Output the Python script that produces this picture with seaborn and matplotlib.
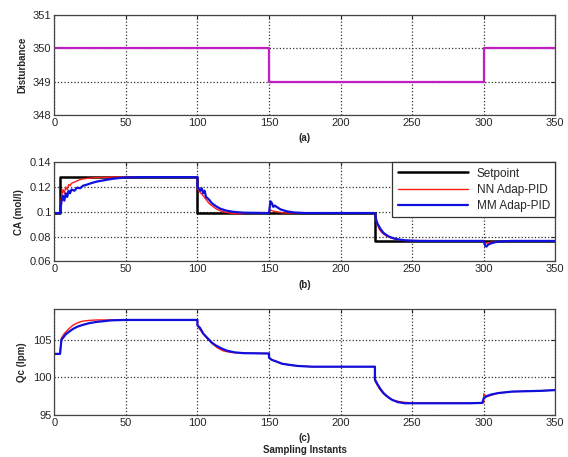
import numpy as np
import pandas as pd
import matplotlib
matplotlib.use("Agg")
import matplotlib.pyplot as plt
import seaborn as sns

# (a) disturbance
dist_x = [0, 150, 300, 350]
dist_y = [350, 349, 350, 350]

# (b) concentration CA
sp_x = [0, 4, 100, 224, 350]
sp_y = [0.099, 0.128, 0.099, 0.0765, 0.0765]

nn_ca_x = [0, 4, 5, 6, 7, 8, 9, 10, 11, 12, 14, 16, 18, 20, 23, 26, 30, 35, 40, 50, 100,
           100, 101, 102, 104, 106, 108, 110, 113, 116, 120, 125, 130, 135, 150,
           151, 153, 156, 160, 224, 225, 227, 229, 232, 235, 238, 242, 250, 258, 270,
           300, 301, 303, 306, 310, 318, 350]
nn_ca_y = [0.099, 0.099, 0.112, 0.118, 0.115, 0.120, 0.118, 0.122, 0.121, 0.123, 0.124,
           0.125, 0.126, 0.1265, 0.127, 0.1273, 0.1276, 0.1278, 0.128, 0.128, 0.128,
           0.119, 0.117, 0.1155, 0.113, 0.110, 0.107, 0.105, 0.1025, 0.1008, 0.0995,
           0.0985, 0.0985, 0.099, 0.099,
           0.1015, 0.1005, 0.100, 0.099, 0.099, 0.092, 0.086, 0.083, 0.0805, 0.079,
           0.078, 0.077, 0.0768, 0.0768, 0.0765,
           0.0765, 0.0745, 0.075, 0.0755, 0.076, 0.0765, 0.0765]

mm_ca_x = [0, 4, 5, 6, 7, 8, 9, 10, 11, 12, 14, 16, 18, 20, 23, 26, 30, 35, 40, 45, 50,
           60, 100, 100, 101, 102, 103, 104, 105, 106, 108, 110, 113, 116, 120, 125, 132,
           150, 151, 152, 153, 154, 156, 158, 162, 167, 175, 224, 225, 226, 228, 230,
           233, 236, 240, 245, 255, 300, 301, 302, 303, 305, 308, 312, 320, 350]
mm_ca_y = [0.099, 0.099, 0.108, 0.113, 0.109, 0.115, 0.112, 0.117, 0.115, 0.118, 0.117,
           0.1195, 0.119, 0.121, 0.122, 0.1232, 0.1245, 0.1255, 0.1265, 0.1272, 0.1277,
           0.128, 0.128, 0.120, 0.119, 0.117, 0.119, 0.115, 0.117, 0.112, 0.110, 0.107,
           0.1045, 0.1025, 0.101, 0.100, 0.0993,
           0.099, 0.1085, 0.107, 0.104, 0.105, 0.1035, 0.102, 0.1005, 0.0995, 0.099,
           0.099, 0.093, 0.090, 0.086, 0.083, 0.0805, 0.079, 0.0778, 0.077, 0.0765,
           0.0765, 0.0725, 0.072, 0.0735, 0.0745, 0.0755, 0.0762, 0.0765, 0.0765]

# (c) coolant flow Qc
nn_qc_x = [0, 4, 5, 7, 10, 13, 16, 20, 25, 30, 100, 100, 103, 106, 110, 114, 118, 123,
           130, 150, 150, 152, 155, 159, 164, 170, 180, 224, 224, 227, 230, 234, 238,
           243, 250, 300, 300, 302, 305, 310, 320, 340, 350]
nn_qc_y = [103.1, 103.1, 105.2, 105.8, 106.4, 106.9, 107.2, 107.45, 107.55, 107.6, 107.6,
           106.8, 106.0, 105.3, 104.5, 103.9, 103.5, 103.3, 103.2, 103.15, 102.6, 102.3,
           102.1, 101.8, 101.65, 101.5, 101.4, 101.4, 99.5, 98.5, 97.8, 97.2, 96.9,
           96.7, 96.6, 96.6, 97.8, 97.4, 97.6, 97.9, 98.1, 98.2, 98.3]

mm_qc_x = [0, 4, 5, 6, 8, 10, 13, 16, 20, 25, 30, 35, 40, 50, 100, 100, 102, 104, 107,
           110, 113, 117, 121, 126, 132, 150, 150, 152, 155, 159, 164, 170, 180, 224,
           224, 226, 228, 230, 233, 236, 240, 245, 290, 299, 300, 302, 305, 310, 320,
           340, 350]
mm_qc_y = [103.1, 103.1, 105.0, 105.2, 105.7, 106.0, 106.4, 106.7, 106.95, 107.2, 107.35,
           107.45, 107.55, 107.6, 107.6, 106.9, 106.5, 105.8, 105.2, 104.6, 104.2, 103.8,
           103.5, 103.3, 103.2, 103.15, 102.6, 102.3, 102.1, 101.8, 101.65, 101.5,
           101.4, 101.4, 99.7, 99.0, 98.4, 97.9, 97.4, 97.0, 96.7, 96.55, 96.55, 96.6,
           97.2, 97.5, 97.7, 97.9, 98.1, 98.2, 98.3]

x_ticks = [0, 50, 100, 150, 200, 250, 300, 350]

sns.set_style("white")
plt.rcParams["font.family"] = ["Liberation Sans", "DejaVu Sans"]
plt.rcParams["font.size"] = 8

fig = plt.figure(figsize=(5.68, 4.57), dpi=100)
left, width = 0.0956, 0.882
ax_a = fig.add_axes([left, 0.748, width, 0.219])
ax_b = fig.add_axes([left, 0.428, width, 0.217])
ax_c = fig.add_axes([left, 0.092, width, 0.231])


def style_axis(ax, ylim, yticks, yticklabels, ylabel, tag):
    ax.set_xlim(0, 350)
    ax.set_ylim(*ylim)
    ax.set_xticks(x_ticks)
    ax.set_yticks(yticks)
    ax.set_yticklabels(yticklabels)
    ax.grid(True, linestyle=":", color="#333333", linewidth=0.9)
    ax.tick_params(direction="in", length=3, labelsize=8, top=True, right=True,
                   pad=2)
    for s in ax.spines.values():
        s.set_color("#444444")
        s.set_linewidth(0.9)
    ax.set_xlabel(tag, fontsize=7, fontweight="bold", labelpad=4)
    ax.set_ylabel(ylabel, fontsize=7, fontweight="bold", labelpad=4)


# (a)
sns.lineplot(x=dist_x, y=dist_y, ax=ax_a, color="#c21fc2", linewidth=1.6,
             drawstyle="steps-post", estimator=None, sort=False)
style_axis(ax_a, (348, 351), [348, 349, 350, 351],
           ["348", "349", "350", "351"], "Disturbance", "(a)")

# (b)
sns.lineplot(x=sp_x, y=sp_y, ax=ax_b, color="black", linewidth=1.8,
             drawstyle="steps-post", estimator=None, sort=False, label="Setpoint")
sns.lineplot(x=nn_ca_x, y=nn_ca_y, ax=ax_b, color="#ff1a1a", linewidth=1.0,
             estimator=None, sort=False, label="NN Adap-PID")
sns.lineplot(x=mm_ca_x, y=mm_ca_y, ax=ax_b, color="#1010dd", linewidth=1.6,
             estimator=None, sort=False, label="MM Adap-PID")
style_axis(ax_b, (0.06, 0.14), [0.06, 0.08, 0.10, 0.12, 0.14],
           ["0.06", "0.08", "0.1", "0.12", "0.14"], "CA (mol/l)", "(b)")
leg = ax_b.legend(loc="upper right", fontsize=8.5, frameon=True, fancybox=False,
                  borderaxespad=0.0, handlelength=6.0, borderpad=0.45,
                  labelspacing=0.35, handletextpad=0.7)
leg.get_frame().set_edgecolor("#333333")
leg.get_frame().set_linewidth(0.9)
leg.get_frame().set_alpha(1)

# (c)
sns.lineplot(x=nn_qc_x, y=nn_qc_y, ax=ax_c, color="#ff1a1a", linewidth=1.0,
             estimator=None, sort=False)
sns.lineplot(x=mm_qc_x, y=mm_qc_y, ax=ax_c, color="#1010dd", linewidth=1.6,
             estimator=None, sort=False)
style_axis(ax_c, (95, 109), [95, 100, 105], ["95", "100", "105"],
           "Qc (lpm)", "(c)\nSampling Instants")

fig.savefig("out.png", dpi=100)
